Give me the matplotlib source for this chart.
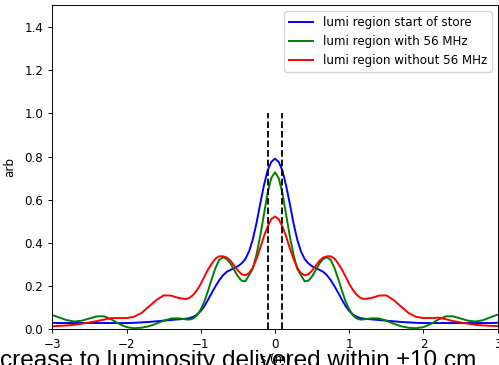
import numpy as np
import matplotlib
matplotlib.use("Agg")
import matplotlib.pyplot as plt

# longitudinal position grid (m): coarse in the tails, finer through the core
s_left = np.round(np.arange(-3.0, -1.25, 0.1), 2)
s_core = np.round(np.arange(-1.2, 1.2001, 0.05), 2)
s_right = np.round(np.arange(1.3, 3.0001, 0.1), 2)
s = np.concatenate([s_left, s_core, s_right])

# luminous region profiles (arb. units)
lumi_start = (
    [0.030, 0.029, 0.029, 0.029, 0.029, 0.029, 0.029, 0.029, 0.029, 0.029,
     0.029, 0.030, 0.032, 0.034, 0.037, 0.040, 0.043, 0.046]
    + [0.049, 0.052, 0.058, 0.068, 0.085, 0.108, 0.138, 0.170, 0.200, 0.228,
       0.250, 0.266, 0.275, 0.283, 0.292, 0.305, 0.325, 0.360, 0.415, 0.490,
       0.580, 0.665, 0.735, 0.775, 0.790, 0.775, 0.735, 0.665, 0.580, 0.490,
       0.415, 0.360, 0.325, 0.305, 0.292, 0.283, 0.275, 0.266, 0.250, 0.228,
       0.200, 0.170, 0.138, 0.108, 0.085, 0.068, 0.058, 0.052, 0.049]
    + [0.046, 0.043, 0.040, 0.037, 0.034, 0.032, 0.030, 0.029, 0.029, 0.029,
       0.029, 0.029, 0.029, 0.029, 0.029, 0.029, 0.029, 0.030]
)

lumi_56mhz = (
    [0.066, 0.054, 0.042, 0.036, 0.040, 0.050, 0.060, 0.060, 0.045, 0.025,
     0.010, 0.005, 0.007, 0.014, 0.026, 0.040, 0.050, 0.051]
    + [0.046, 0.045, 0.050, 0.065, 0.092, 0.130, 0.180, 0.235, 0.285, 0.322,
       0.333, 0.326, 0.305, 0.275, 0.245, 0.225, 0.222, 0.250, 0.280, 0.345,
       0.430, 0.530, 0.630, 0.700, 0.727, 0.700, 0.630, 0.530, 0.430, 0.345,
       0.280, 0.250, 0.222, 0.225, 0.245, 0.275, 0.305, 0.326, 0.333, 0.322,
       0.285, 0.235, 0.180, 0.130, 0.092, 0.065, 0.050, 0.045, 0.046]
    + [0.051, 0.050, 0.040, 0.026, 0.014, 0.007, 0.005, 0.010, 0.025, 0.045,
       0.060, 0.060, 0.050, 0.040, 0.036, 0.042, 0.055, 0.068]
)

lumi_no_56mhz = (
    [0.014, 0.016, 0.018, 0.021, 0.026, 0.032, 0.038, 0.045, 0.052, 0.052,
     0.052, 0.058, 0.075, 0.105, 0.135, 0.157, 0.156, 0.145]
    + [0.140, 0.146, 0.160, 0.182, 0.210, 0.245, 0.278, 0.305, 0.328, 0.338,
       0.338, 0.332, 0.318, 0.295, 0.272, 0.255, 0.250, 0.260, 0.285, 0.325,
       0.375, 0.430, 0.475, 0.510, 0.522, 0.510, 0.475, 0.430, 0.375, 0.325,
       0.285, 0.260, 0.250, 0.255, 0.272, 0.295, 0.318, 0.332, 0.338, 0.338,
       0.328, 0.305, 0.278, 0.245, 0.210, 0.182, 0.160, 0.146, 0.140]
    + [0.145, 0.156, 0.157, 0.135, 0.105, 0.075, 0.058, 0.052, 0.052, 0.054,
       0.047, 0.038, 0.032, 0.026, 0.021, 0.018, 0.016, 0.015]
)

labels = ["lumi region start of store", "lumi region with 56 MHz",
          "lumi region without 56 MHz"]
colors = ["blue", "green", "red"]

# ±10 cm window
window = [-0.1, 0.1]
window_top = 1.0

x_ticks = [-3, -2, -1, 0, 1, 2, 3]
y_ticks = [0.0, 0.2, 0.4, 0.6, 0.8, 1.0, 1.2, 1.4]

fs = 8.6
fig = plt.figure(figsize=(4.99, 3.65), dpi=100)
ax = fig.add_axes([52.3 / 499, 1 - 329.3 / 365, (497.7 - 52.3) / 499, (329.3 - 5.3) / 365])

for ys, lab, c in zip([lumi_start, lumi_56mhz, lumi_no_56mhz], labels, colors):
    ax.plot(s, ys, color=c, lw=1.4, label=lab)

ax.vlines(window, 0, window_top, colors="black", linestyles="--", lw=1.3)

ax.set_xlim(-3, 3)
ax.set_ylim(0, 1.5)
ax.set_xticks(x_ticks)
ax.set_yticks(y_ticks)
ax.tick_params(labelsize=fs, length=3, width=0.7)
for sp in ax.spines.values():
    sp.set_linewidth(0.7)
ax.set_xlabel("s (m)", fontsize=fs, labelpad=1)
ax.set_ylabel("arb", fontsize=fs, labelpad=6)
ax.legend(loc="upper right", fontsize=fs, framealpha=0.8)

# slide caption running across the bottom of the figure
fig.text(0.0 / 499, 1 - 367.0 / 365, "crease to luminosity delivered within \u00b110 cm",
         fontsize=17.6, family="Liberation Sans", color="black",
         ha="left", va="baseline", zorder=10)

fig.savefig("out.png", dpi=100)
